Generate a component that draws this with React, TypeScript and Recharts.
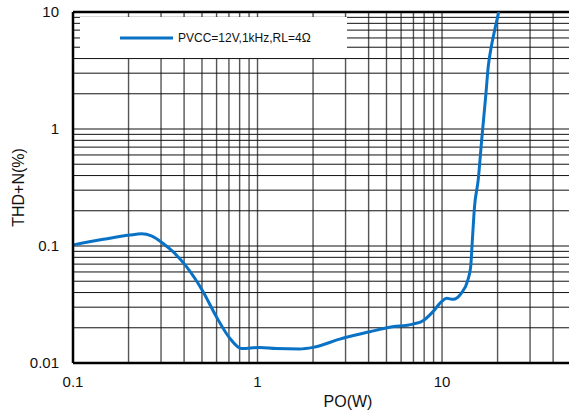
import React from 'react';
import { ComposedChart, Line, XAxis, YAxis, ReferenceLine, Legend } from 'recharts';

const po = [0.1, 0.146, 0.203, 0.235, 0.266, 0.308, 0.348, 0.412, 0.507, 0.598, 0.707, 0.818, 1.03, 1.26, 1.69, 2.0, 2.79, 3.03, 4.06, 5.2, 6.97, 7.89, 8.94, 9.93, 10.6, 11.5, 12.7, 13.8, 14.3, 14.6, 15.0, 15.7, 16.4, 17.3, 17.8, 18.5, 19.3, 20.3];
const thd = [0.102, 0.114, 0.124, 0.127, 0.122, 0.105, 0.0894, 0.0666, 0.0407, 0.0249, 0.0163, 0.0133, 0.0136, 0.0133, 0.0132, 0.0136, 0.016, 0.0166, 0.0185, 0.0202, 0.0215, 0.023, 0.0275, 0.0334, 0.0357, 0.035, 0.0394, 0.0512, 0.0666, 0.112, 0.217, 0.366, 0.805, 2.02, 3.41, 5.06, 7.02, 10];

const xTicks = [0.1, 1, 10];
const yTicks = [0.01, 0.1, 1, 10];
const xGrid = [0.2, 0.3, 0.4, 0.5, 0.6, 0.7, 0.8, 0.9, 1, 2, 3, 4, 5, 6, 7, 8, 9, 10, 20, 30, 40];
const yGrid = [0.02, 0.03, 0.04, 0.05, 0.06, 0.07, 0.08, 0.09, 0.1, 0.2, 0.3, 0.4, 0.5, 0.6, 0.7, 0.8, 0.9, 1, 2, 3, 4, 5, 6, 7, 8, 9];
const seriesName = 'PVCC=12V,1kHz,RL=4Ω';

const data = po.map((p, i) => ({ po: p, thd: thd[i] }));

const FONT = '"Liberation Sans", Arial, sans-serif';
const BLUE = '#0a72c4';

const LegendContent = () => (
  <div style={{ width: 267, height: 41, background: '#fff', display: 'flex', alignItems: 'center', fontFamily: FONT, fontSize: 12, color: '#111' }}>
    <svg width={53} height={4} style={{ marginLeft: 40, marginRight: 5 }}>
      <line x1={0} y1={2} x2={53} y2={2} stroke={BLUE} strokeWidth={3} />
    </svg>
    <span>{seriesName}</span>
  </div>
);

export default function App() {
  return (
    <div style={{ position: 'absolute', left: 0, top: 0, width: 569, height: 414, overflow: 'hidden', background: '#fff' }}>
      <ComposedChart width={575} height={414} data={data} margin={{ top: 12, right: 4, bottom: 21, left: 0 }} style={{ fontFamily: FONT }}>
        {xGrid.map((v) => (
          <ReferenceLine key={'x' + v} x={v} stroke="#555" strokeWidth={1.4} ifOverflow="hidden" />
        ))}
        {yGrid.map((v) => (
          <ReferenceLine key={'y' + v} y={v} stroke="#111" strokeWidth={1} ifOverflow="hidden" />
        ))}
        <ReferenceLine y={10} stroke="#000" strokeWidth={2.5} />
        <XAxis
          dataKey="po"
          type="number"
          scale="log"
          domain={[0.1, 50]}
          allowDataOverflow
          ticks={xTicks}
          tickFormatter={(v) => String(v)}
          height={30}
          tickSize={0}
          tickMargin={13}
          tick={{ fill: '#111', fontSize: 15 }}
          axisLine={{ stroke: '#000', strokeWidth: 2.5 }}
          label={{ value: 'PO(W)', position: 'bottom', dx: 26, dy: -2, fill: '#111', fontSize: 16 }}
        />
        <YAxis
          dataKey="thd"
          type="number"
          scale="log"
          domain={[0.01, 10]}
          allowDataOverflow
          ticks={yTicks}
          tickFormatter={(v) => String(v)}
          width={73}
          tickSize={0}
          tickMargin={14}
          tick={{ fill: '#111', fontSize: 15 }}
          axisLine={{ stroke: '#000', strokeWidth: 2.5 }}
          label={{
            content: (props: any) => {
              const vb = props.viewBox || { x: 0, y: 12, width: 73, height: 351 };
              const cx = vb.x + 24;
              const cy = vb.y + vb.height / 2;
              return (
                <text x={cx} y={cy} transform={`rotate(-90 ${cx} ${cy})`} textAnchor="middle" fill="#111" fontSize={16} fontFamily={FONT}>
                  THD+N(%)
                </text>
              );
            },
          }}
        />
        <Legend
          content={<LegendContent />}
          wrapperStyle={{ position: 'absolute', left: 80, top: 17, width: 0, height: 0, overflow: 'visible' }}
        />
        <Line
          type="monotone"
          dataKey="thd"
          name={seriesName}
          stroke={BLUE}
          strokeWidth={3}
          dot={false}
          isAnimationActive={false}
        />
      </ComposedChart>
    </div>
  );
}
